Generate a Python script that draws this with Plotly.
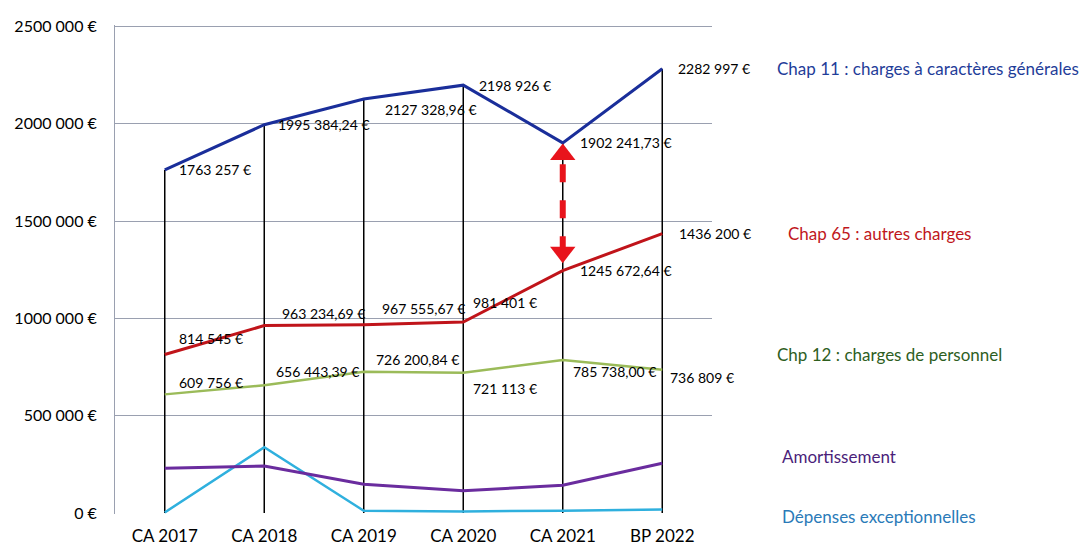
import plotly.graph_objects as go

# années (axe des catégories)
annees = ["CA 2017", "CA 2018", "CA 2019", "CA 2020", "CA 2021", "BP 2022"]

# montants par chapitre (en €)
chap11 = [1763257, 1995384.24, 2127328.96, 2198926, 1902241.73, 2282997]
chap65 = [814545, 963234.69, 967555.67, 981401, 1245672.64, 1436200]
chap12 = [609756, 656443.39, 726200.84, 721113, 785738.00, 736809]
amortissement = [230000, 242000, 148000, 114000, 143000, 256000]
exceptionnelles = [3000, 338000, 12000, 8000, 12000, 18000]

# étiquettes de valeurs telles qu'affichées
lbl11 = ["1763 257 €", "1995 384,24 €", "2127 328,96 €", "2198 926 €", "1902 241,73 €", "2282 997 €"]
lbl65 = ["814 545 €", "963 234,69 €", "967 555,67 €", "981 401 €", "1245 672,64 €", "1436 200 €"]
lbl12 = ["609 756 €", "656 443,39 €", "726 200,84 €", "721 113 €", "785 738,00 €", "736 809 €"]

y_ticks = [0, 500000, 1000000, 1500000, 2000000, 2500000]
y_ticktext = ["0 €", "500 000 €", "1000 000 €", "1500 000 €", "2000 000 €", "2500 000 €"]

FONT = "Lato"
GRID = "#9aa0b0"
fig = go.Figure()

# lignes verticales (0 -> chap 11)
xs, ys = [], []
for a, v in zip(annees, chap11):
    xs += [a, a, None]
    ys += [0, v, None]
fig.add_trace(go.Scatter(x=xs, y=ys, mode="lines",
                         line=dict(color="black", width=1.5),
                         hoverinfo="skip", showlegend=False))

series = [
    (exceptionnelles, "#2fb0de", 2.5),
    (amortissement, "#6a2c9e", 3),
    (chap12, "#9bbb59", 2.5),
    (chap65, "#c0141a", 3),
    (chap11, "#1a2e9a", 3),
]
for vals, col, w in series:
    fig.add_trace(go.Scatter(x=annees, y=vals, mode="lines",
                             line=dict(color=col, width=w), showlegend=False))

# flèche double rouge en pointillés (CA 2021, entre chap 65 et chap 11)
haut, bas = chap11[4], chap65[4]
fig.add_trace(go.Scatter(x=[annees[4]] * 2, y=[haut - 110000, bas + 110000],
                         mode="lines", line=dict(color="#e8141c", width=6, dash="dash"),
                         hoverinfo="skip", showlegend=False))
fig.add_trace(go.Scatter(x=[annees[4]], y=[haut - 60000], mode="markers",
                         marker=dict(symbol="triangle-up", size=22, color="#e8141c"),
                         hoverinfo="skip", showlegend=False))
fig.add_trace(go.Scatter(x=[annees[4]], y=[bas + 95000], mode="markers",
                         marker=dict(symbol="triangle-down", size=22, color="#e8141c"),
                         hoverinfo="skip", showlegend=False))

# étiquettes de données (décalages en px)
dec11 = [(12, 0), (12, 0), (19, -10), (14, 0), (15, 0), (14, 0)]
dec65 = [(12, 16), (16, 12), (16, 16), (8, 20), (15, 0), (15, 0)]
dec12 = [(12, 12), (10, 14), (10, 12), (8, -16), (8, -11), (6, -8)]
for vals, lbls, decs in [(chap11, lbl11, dec11), (chap65, lbl65, dec65), (chap12, lbl12, dec12)]:
    for a, v, t, (dx, dy) in zip(annees, vals, lbls, decs):
        fig.add_annotation(x=a, y=v, text=t, showarrow=False, xanchor="left",
                           xshift=dx, yshift=dy,
                           font=dict(family=FONT, size=14, color="black"))

# noms des séries à droite
noms = [
    ("Chap 11 : charges à caractères générales", chap11[-1], 1.105, 0, "#1f3d99"),
    ("Chap 65 : autres charges", chap65[-1], 1.124, 0, "#c0171c"),
    ("Chp 12 : charges de personnel", chap12[-1], 1.105, 15, "#2e5e1e"),
    ("Amortissement", amortissement[-1], 1.114, 7, "#4b1e7a"),
    ("Dépenses exceptionnelles", exceptionnelles[-1], 1.114, -7, "#2a7ab8"),
]
for t, v, px, dy, col in noms:
    fig.add_annotation(x=px, xref="paper", y=v, text=t, showarrow=False,
                       xanchor="left", yshift=dy,
                       font=dict(family=FONT, size=17, color=col))

fig.update_xaxes(type="category", range=[-0.5, 5.5], showgrid=False, showline=False,
                 automargin=False, ticklabelstandoff=10,
                 tickfont=dict(family=FONT, size=17, color="black"), ticks="")
fig.update_yaxes(range=[-5000, 2508000], tickvals=y_ticks, ticktext=y_ticktext,
                 showgrid=True, gridcolor=GRID, gridwidth=1,
                 showline=True, linecolor=GRID, zeroline=False,
                 automargin=False, ticklabelstandoff=14,
                 tickfont=dict(family=FONT, size=16, color="black"))
# marges du <body> (8 px) : figure décalée d'autant dans la fenêtre
fig.update_layout(width=1071, height=537, plot_bgcolor="white", paper_bgcolor="white",
                  margin=dict(l=107, r=367, t=17, b=31), showlegend=False)

fig.write_html("out.html")
